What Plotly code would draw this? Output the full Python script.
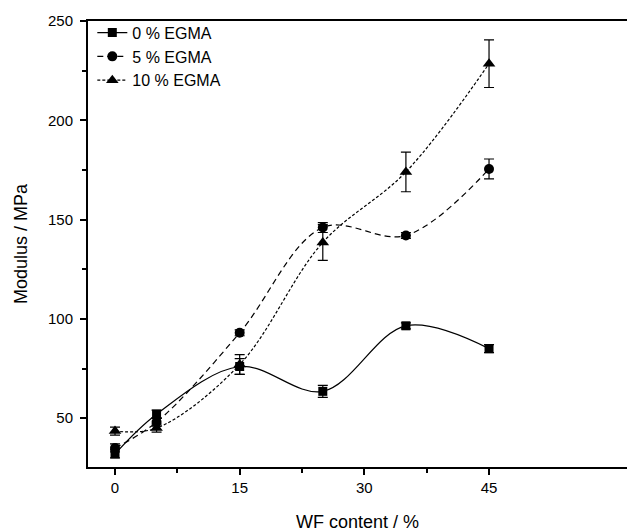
import plotly.graph_objects as go

wf = [0, 5, 15, 25, 35, 45]
egma0 = [32, 52, 76, 63.5, 96.5, 85]
egma0_err = [2, 2, 4, 3, 1.5, 2]
egma5 = [35, 48, 93, 146, 142, 175.5]
egma5_err = [2, 2, 1.5, 2.5, 1.5, 5]
egma10 = [43.5, 45, 77, 138.5, 174, 228.5]
egma10_err = [2, 2, 5, 9, 10, 12]

names = ["0 % EGMA", "5 % EGMA", "10 % EGMA"]
symbols = ["square", "circle", "triangle-up"]
dashes = ["solid", "6px,4px", "3px,2px"]
sizes = [9, 10, 11]

fig = go.Figure()
for y, e, n, s, d, ms in zip([egma0, egma5, egma10], [egma0_err, egma5_err, egma10_err],
                            names, symbols, dashes, sizes):
    fig.add_trace(go.Scatter(
        x=wf, y=y, name=n, mode="lines+markers",
        line=dict(color="black", width=1.2, dash=d, shape="spline", smoothing=1.0),
        marker=dict(symbol=s, size=ms, color="black"),
        error_y=dict(type="data", array=e, visible=True, color="black", thickness=1.2, width=5),
    ))

font = "Liberation Sans, Arial, sans-serif"
fig.update_layout(
    width=627, height=532,
    margin=dict(l=88, r=0, t=21, b=65),
    paper_bgcolor="white", plot_bgcolor="white",
    font=dict(family=font, color="black", size=15),
    showlegend=True,
    legend=dict(x=0.008, y=1.012, xanchor="left", yanchor="top", bgcolor="rgba(0,0,0,0)",
                font=dict(size=16), tracegroupgap=0, itemwidth=30),
    xaxis=dict(range=[-3.25, 61.6], tickmode="array", tickvals=[0, 15, 30, 45],
               ticks="outside", ticklen=6, tickwidth=1.5, tickcolor="black",
               showline=True, linewidth=2, linecolor="black", mirror=True,
               showgrid=False, zeroline=False,
               minor=dict(tickvals=[7.5, 22.5, 37.5], ticks="outside", ticklen=4, tickwidth=1.5, tickcolor="black"),
               title=dict(text="WF content / %", font=dict(size=18), standoff=21),
               tickfont=dict(size=15)),
    yaxis=dict(range=[25.4, 250], tickmode="array", tickvals=[50, 100, 150, 200, 250],
               ticks="outside", ticklen=6, tickwidth=1.5, tickcolor="black",
               showline=True, linewidth=2, linecolor="black", mirror=False,
               showgrid=False, zeroline=False, ticklabelstandoff=4,
               minor=dict(tickvals=[75, 125, 175, 225], ticks="outside", ticklen=4, tickwidth=1.5, tickcolor="black"),
               title=dict(text="Modulus / MPa", font=dict(size=18), standoff=16),
               tickfont=dict(size=15)),
)

fig.write_html("out.html")
